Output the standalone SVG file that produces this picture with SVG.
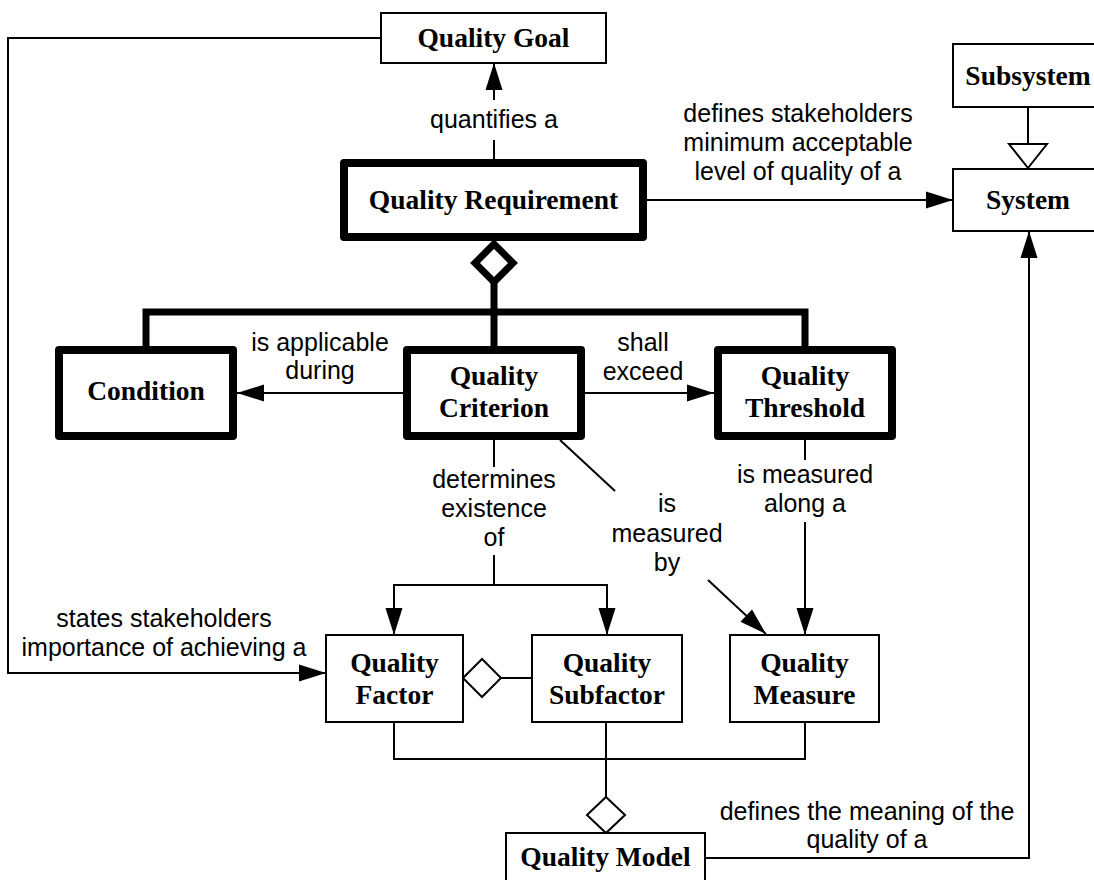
<svg xmlns="http://www.w3.org/2000/svg" width="1094" height="880" viewBox="0 0 1094 880">
  <style>
    .box { fill: #fff; stroke: #000; stroke-width: 2; }
    .bold-box { fill: #fff; stroke: #000; stroke-width: 8; stroke-linejoin: round; }
    .name { font-family: "Liberation Serif", "Times New Roman", serif; font-weight: bold; font-size: 27.5px; text-anchor: middle; fill: #000; }
    .label { font-family: "Liberation Sans", Arial, sans-serif; font-size: 25px; text-anchor: middle; fill: #000; }
    .line { fill: none; stroke: #000; stroke-width: 2; }
    .thick { fill: none; stroke: #000; stroke-width: 7; }
    .hollow { fill: #fff; stroke: #000; stroke-width: 2; }
  </style>
  <defs>
    <marker id="arrow" markerUnits="userSpaceOnUse" markerWidth="28" markerHeight="18" refX="27" refY="8.5" orient="auto" overflow="visible">
      <path d="M0,0 L27,8.5 L0,17 z" fill="#000"/>
    </marker>
  </defs>

  <rect width="1094" height="880" fill="#fff"/>

  <!-- connectors -->
  <g id="connectors">
    <!-- quantifies a -->
    <line class="line" x1="494" y1="159" x2="494" y2="140"/>
    <line class="line" x1="494" y1="100" x2="494" y2="63" marker-end="url(#arrow)"/>
    <!-- defines stakeholders minimum acceptable level -->
    <line class="line" x1="647" y1="200" x2="953" y2="200" marker-end="url(#arrow)"/>
    <!-- generalization Subsystem -> System -->
    <line class="line" x1="1028" y1="107" x2="1028" y2="144"/>
    <polygon class="hollow" points="1009,144 1047,144 1028,168"/>
    <!-- aggregation of the requirement parts -->
    <polygon points="494,244 513,263 494,282 475,263" fill="#fff" stroke="#000" stroke-width="7" stroke-linejoin="miter"/>
    <line class="thick" x1="494" y1="282" x2="494" y2="346"/>
    <path class="thick" d="M146,346 V312 H805 V346"/>
    <!-- is applicable during -->
    <line class="line" x1="403" y1="393" x2="237" y2="393" marker-end="url(#arrow)"/>
    <!-- shall exceed -->
    <line class="line" x1="585" y1="393" x2="714" y2="393" marker-end="url(#arrow)"/>
    <!-- determines existence of -->
    <line class="line" x1="494" y1="440" x2="494" y2="467"/>
    <line class="line" x1="494" y1="555" x2="494" y2="585"/>
    <path class="line" d="M494,585 H394 V635" marker-end="url(#arrow)"/>
    <path class="line" d="M494,585 H607 V635" marker-end="url(#arrow)"/>
    <!-- is measured by -->
    <line class="line" x1="560" y1="440" x2="615" y2="491"/>
    <line class="line" x1="708" y1="580" x2="766" y2="634" marker-end="url(#arrow)"/>
    <!-- is measured along a -->
    <line class="line" x1="805" y1="440" x2="805" y2="460"/>
    <line class="line" x1="805" y1="522" x2="805" y2="635" marker-end="url(#arrow)"/>
    <!-- states stakeholders importance -->
    <path class="line" d="M381,38 H8 V673 H326" marker-end="url(#arrow)"/>
    <!-- factor / subfactor aggregation -->
    <line class="line" x1="501" y1="678" x2="532" y2="678"/>
    <polygon class="hollow" points="463,678 482,659 501,678 482,697"/>
    <!-- quality model aggregation -->
    <path class="line" d="M394,722 V759 H805 V722"/>
    <line class="line" x1="606" y1="722" x2="606" y2="797"/>
    <polygon class="hollow" points="606,797 625,815 606,833 587,815"/>
    <!-- defines the meaning of the quality of a -->
    <path class="line" d="M705,858 H1029 V231" marker-end="url(#arrow)"/>

    <text class="label" x="494" y="128">quantifies a</text>
    <text class="label" x="798" y="122">defines stakeholders</text>
    <text class="label" x="798" y="151">minimum acceptable</text>
    <text class="label" x="798" y="180">level of quality of a</text>
    <text class="label" x="320" y="351">is applicable</text>
    <text class="label" x="320" y="379">during</text>
    <text class="label" x="643" y="351">shall</text>
    <text class="label" x="643" y="380">exceed</text>
    <text class="label" x="494" y="488">determines</text>
    <text class="label" x="494" y="517">existence</text>
    <text class="label" x="494" y="546">of</text>
    <text class="label" x="667" y="512">is</text>
    <text class="label" x="667" y="542">measured</text>
    <text class="label" x="667" y="571">by</text>
    <text class="label" x="805" y="483">is measured</text>
    <text class="label" x="805" y="512">along a</text>
    <text class="label" x="164" y="627">states stakeholders</text>
    <text class="label" x="164" y="656">importance of achieving a</text>
    <text class="label" x="867" y="820">defines the meaning of the</text>
    <text class="label" x="867" y="848">quality of a</text>
  </g>

  <!-- nodes -->
  <g id="quality-goal">
    <rect class="box" x="381" y="13" width="225" height="50"/>
    <text class="name" x="493.5" y="47">Quality Goal</text>
  </g>
  <g id="quality-requirement">
    <rect class="bold-box" x="344" y="163" width="299" height="74"/>
    <text class="name" x="493.5" y="209">Quality Requirement</text>
  </g>
  <g id="subsystem">
    <rect class="box" x="953" y="44" width="150" height="63"/>
    <text class="name" x="1028" y="85">Subsystem</text>
  </g>
  <g id="system">
    <rect class="box" x="953" y="169" width="150" height="62"/>
    <text class="name" x="1028" y="209">System</text>
  </g>
  <g id="condition">
    <rect class="bold-box" x="59" y="350" width="174" height="86"/>
    <text class="name" x="146" y="400">Condition</text>
  </g>
  <g id="quality-criterion">
    <rect class="bold-box" x="407" y="350" width="174" height="86"/>
    <text class="name" x="494" y="385">Quality</text>
    <text class="name" x="494" y="417">Criterion</text>
  </g>
  <g id="quality-threshold">
    <rect class="bold-box" x="718" y="350" width="174" height="86"/>
    <text class="name" x="805" y="385">Quality</text>
    <text class="name" x="805" y="417">Threshold</text>
  </g>
  <g id="quality-factor">
    <rect class="box" x="326" y="635" width="137" height="87"/>
    <text class="name" x="394.5" y="672">Quality</text>
    <text class="name" x="394.5" y="704">Factor</text>
  </g>
  <g id="quality-subfactor">
    <rect class="box" x="532" y="635" width="150" height="87"/>
    <text class="name" x="607" y="672">Quality</text>
    <text class="name" x="607" y="704">Subfactor</text>
  </g>
  <g id="quality-measure">
    <rect class="box" x="730" y="635" width="149" height="87"/>
    <text class="name" x="804.5" y="672">Quality</text>
    <text class="name" x="804.5" y="704">Measure</text>
  </g>
  <g id="quality-model">
    <rect class="box" x="506" y="833" width="199" height="62"/>
    <text class="name" x="605.5" y="866">Quality Model</text>
  </g>
</svg>
